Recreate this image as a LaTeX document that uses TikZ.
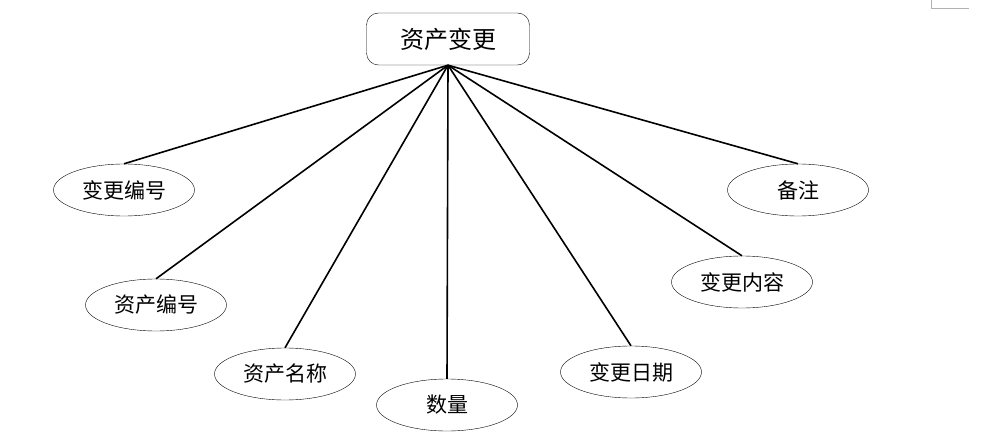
\documentclass[tikz,border=0pt]{standalone}
\usepackage{fontspec}
\setmainfont{Noto Sans CJK SC}
\usepackage{tikz}
\usetikzlibrary{shapes.geometric}

\begin{document}
\begin{tikzpicture}[x=1pt, y=-1pt,
    entity/.style={draw, rounded corners=12pt, minimum width=163pt, minimum height=52pt, inner sep=0pt, font=\fontsize{24}{27}\selectfont},
    attr/.style={draw, ellipse, minimum width=141pt, minimum height=52pt, inner sep=0pt, font=\fontsize{21}{25}\selectfont},
    link/.style={line width=1.6pt}]
    \useasboundingbox (0,0) rectangle (1005,441);

    % page corner mark
    \draw[gray!60, line width=0.8pt] (931,0) -- (931,8) -- (969,8);

    \node[entity] (change) at (448,39) {资产变更};

    \node[attr] (chgno) at (124,190) {变更编号};
    \node[attr] (assetno) at (156,305) {资产编号};
    \node[attr] (assetname) at (285,374) {资产名称};
    \node[attr] (qty) at (447,405) {数量};
    \node[attr] (chgdate) at (631,372) {变更日期};
    \node[attr] (chgcontent) at (742,282) {变更内容};
    \node[attr] (remark) at (798,190) {备注};

    \foreach \a in {chgno, assetno, assetname, qty, chgdate, chgcontent, remark}
        \draw[link] (change.south) -- (\a.north);
\end{tikzpicture}
\end{document}
